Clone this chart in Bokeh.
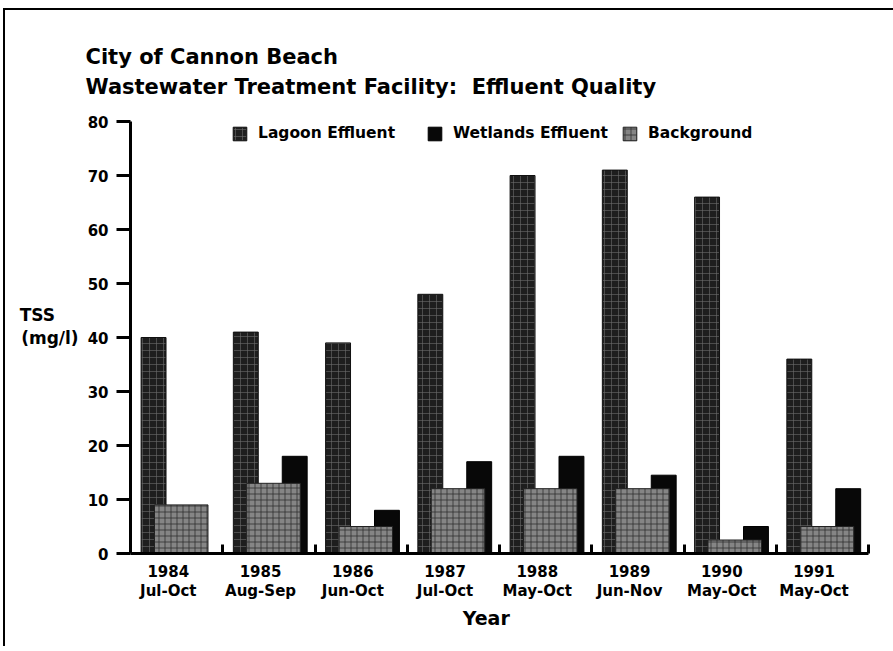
import numpy as np
from bokeh.plotting import figure
from bokeh.models import (ColumnDataSource, FixedTicker, Legend, LegendItem, Range1d)
from bokeh.embed import file_html
from bokeh.resources import INLINE

years = ["1984", "1985", "1986", "1987", "1988", "1989", "1990", "1991"]
periods = ["Jul-Oct", "Aug-Sep", "Jun-Oct", "Jul-Oct", "May-Oct", "Jun-Nov", "May-Oct", "May-Oct"]
lagoon = [40, 41, 39, 48, 70, 71, 66, 36]
wetlands = [float("nan"), 18, 8, 17, 18, 14.5, 5, 12]
background = [9, 13, 5, 12, 12, 12, 2.5, 5]
y_ticks = [0, 10, 20, 30, 40, 50, 60, 70, 80]

FONT = "DejaVu Sans"
NB = "\u00a0"
idx = np.arange(len(years))

src = ColumnDataSource(dict(
    lag_x=idx + 0.25, wet_x=idx + 0.78, bg_x=idx + 0.55,
    lagoon=lagoon, wetlands=wetlands, background=background,
))

p = figure(width=888, height=636, output_backend="svg", toolbar_location=None,
           x_range=Range1d(0, 8), y_range=Range1d(0, 80),
           min_border_left=125, min_border_right=27, min_border_top=111, min_border_bottom=95)
p.styles = {"position": "relative", "left": "3px", "top": "8px",
            "box-sizing": "content-box",
            "border-top": "2px solid black", "border-left": "2px solid black"}
p.outline_line_color = None
p.grid.visible = False
p.background_fill_color = "white"
p.border_fill_color = "white"

# title (two lines)
p.title.text = "City of Cannon Beach\nWastewater Treatment Facility:" + NB + " Effluent Quality"
p.title.align = "left"
p.title.offset = -45
p.title.standoff = 45
p.title.text_font = FONT
p.title.text_font_style = "bold"
p.title.text_font_size = "21px"
p.title.text_color = "black"
p.title.text_line_height = 1.25

r_lag = p.vbar(x="lag_x", top="lagoon", width=0.27, source=src,
               fill_color="#1e1e1e", line_color="#111111", line_width=1,
               hatch_pattern="+", hatch_color="#6a6a6a", hatch_scale=7, hatch_weight=1, hatch_alpha=0.6)
r_wet = p.vbar(x="wet_x", top="wetlands", width=0.27, source=src,
               fill_color="#080808", line_color="#000000", line_width=1)
r_bg = p.vbar(x="bg_x", top="background", width=0.58, source=src,
              fill_color="#858585", line_color="#222222", line_width=1,
              hatch_pattern="+", hatch_color="#2a2a2a", hatch_scale=6, hatch_weight=1, hatch_alpha=0.75)

# y axis
p.yaxis.ticker = FixedTicker(ticks=y_ticks)
p.yaxis.axis_line_width = 3
p.yaxis.major_tick_line_width = 3
p.yaxis.major_tick_out = 14
p.yaxis.major_tick_in = 0
p.yaxis.minor_tick_line_color = None
p.yaxis.major_label_text_font = FONT
p.yaxis.major_label_text_font_style = "bold"
p.yaxis.major_label_text_font_size = "15px"
p.yaxis.major_label_text_color = "black"
p.yaxis.major_label_standoff = 8
p.yaxis.axis_label = "TSS" + NB * 4 + "\n(mg/l)\n" + NB
p.yaxis.axis_label_orientation = "horizontal"
p.yaxis.axis_label_standoff = 6
p.yaxis.axis_label_text_font = FONT
p.yaxis.axis_label_text_font_style = "bold"
p.yaxis.axis_label_text_font_size = "17px"
p.yaxis.axis_label_text_color = "black"
p.yaxis.axis_label_text_line_height = 1.15

# x axis
p.xaxis.ticker = FixedTicker(ticks=list(idx + 0.41), minor_ticks=list(idx + 1.0))
p.xaxis.major_label_overrides = {float(i + 0.41): f"{y}\n{m}" for i, (y, m) in enumerate(zip(years, periods))}
p.xaxis.axis_line_width = 3
p.xaxis.major_tick_line_color = None
p.xaxis.minor_tick_in = 9
p.xaxis.minor_tick_out = 0
p.xaxis.minor_tick_line_width = 3
p.xaxis.minor_tick_line_color = "black"
p.xaxis.major_label_text_font = FONT
p.xaxis.major_label_text_font_style = "bold"
p.xaxis.major_label_text_font_size = "15px"
p.xaxis.major_label_text_color = "black"
p.xaxis.major_label_text_line_height = 1.1
p.xaxis.major_label_standoff = 3
p.xaxis.axis_label = "Year" + NB * 4
p.xaxis.axis_label_standoff = 4
p.xaxis.axis_label_text_font = FONT
p.xaxis.axis_label_text_font_style = "bold"
p.xaxis.axis_label_text_font_size = "19px"
p.xaxis.axis_label_text_color = "black"

for r, name, xloc in [(r_lag, "Lagoon Effluent", 101), (r_wet, "Wetlands Effluent", 296), (r_bg, "Background", 491)]:
    lg = Legend(items=[LegendItem(label=name, renderers=[r])], location=(xloc, 411),
                orientation="horizontal", padding=0, margin=0, spacing=0,
                glyph_width=17, glyph_height=17, label_standoff=10,
                border_line_color=None, background_fill_alpha=0,
                label_text_font=FONT, label_text_font_style="bold",
                label_text_font_size="15.5px", label_text_color="black")
    p.add_layout(lg, "center")

open("out.html", "w").write(file_html(p, INLINE))
